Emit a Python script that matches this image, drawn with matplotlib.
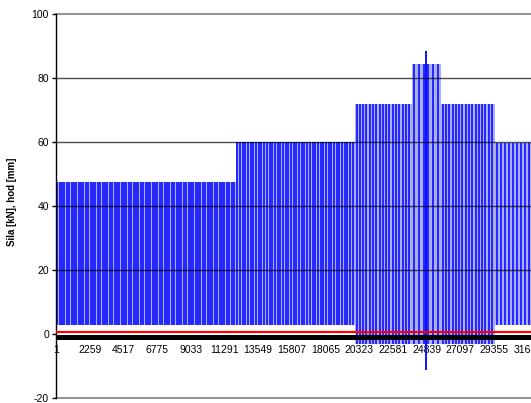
import numpy as np
import matplotlib
matplotlib.use("Agg")
import matplotlib.pyplot as plt

plt.rcParams['font.family'] = ['Liberation Sans', 'DejaVu Sans']

# Bloky zatěžování (index vzorku, úrovně síly v kN)
block_start = [1, 12060, 20030, 23850, 25800, 29410]
block_end = [12060, 20030, 23850, 25800, 29410, 34000]
block_max = [47.5, 60.0, 72.0, 84.3, 72.0, 59.7]
block_min = [2.8, 2.8, -3.1, -3.1, -3.1, 2.8]
cycle_len = [160, 180, 220, 315, 220, 268]

# Jednorázová špička
spike_x = 24800
spike_max = 88.3
spike_min = -11.3

# Ostatní průběhy
red_level = 0.7
black_level = -1.0

x_ticks = [1, 2259, 4517, 6775, 9033, 11291, 13549, 15807, 18065,
           20323, 22581, 24839, 27097, 29355, 31613]
y_ticks = [-20, 0, 20, 40, 60, 80, 100]

W, H = 531, 403
fig = plt.figure(figsize=(W / 100, H / 100), dpi=100)
x_end = 34000
px_per_sample = 33.7 / 2258
left_px, top_px, bottom_px = 56, 14, 398
width_px = (x_end - 1) * px_per_sample
ax = fig.add_axes([left_px / W, (H - bottom_px) / H, width_px / W, (bottom_px - top_px) / H])

# modrý průběh síly
for s, e, hi, lo, cl in zip(block_start, block_end, block_max, block_min, cycle_len):
    ax.fill_between([s, e], lo, hi, color='#a9b0ff', lw=0, zorder=1)
    xs = np.arange(s + cl / 2, e, cl)
    ax.vlines(xs, lo, hi, color='#0000ff', lw=1.1, zorder=2)
ax.vlines([spike_x], spike_min, spike_max, color='#0000ff', lw=1.3, zorder=2)

ax.plot([1, x_end], [red_level, red_level], color='red', lw=1.6, zorder=3)
ax.plot([1, x_end], [black_level, black_level], color='black', lw=3.6, zorder=4)

ax.set_xlim(1, x_end)
ax.set_ylim(-20, 100)

for yv in [20, 40, 60, 80]:
    ax.axhline(yv, color='black', lw=1.0, alpha=0.7, zorder=2.5)
for yv in [-20, 100]:
    ax.axhline(yv, color='#808080', lw=1.2, zorder=0.5, clip_on=False)

ax.spines['top'].set_visible(False)
ax.spines['right'].set_visible(False)
ax.spines['bottom'].set_position(('data', 0))
ax.spines['bottom'].set_visible(False)
ax.spines['left'].set_color('black')
ax.spines['left'].set_linewidth(1.0)

ax.set_yticks(y_ticks)
ax.set_yticklabels([str(v) for v in y_ticks])
ax.tick_params(axis='y', length=3, width=1, pad=2, labelsize=7.5)
ax.set_xticks(x_ticks)
ax.set_xticklabels([str(v) for v in x_ticks])
ax.tick_params(axis='x', length=0, pad=8, labelsize=7.5)

fig.text(12 / W, 0.5, 'Sila [kN], hod [mm]', rotation=90, fontsize=7,
         fontweight='bold', ha='center', va='center')

fig.savefig('out.png', dpi=100)
